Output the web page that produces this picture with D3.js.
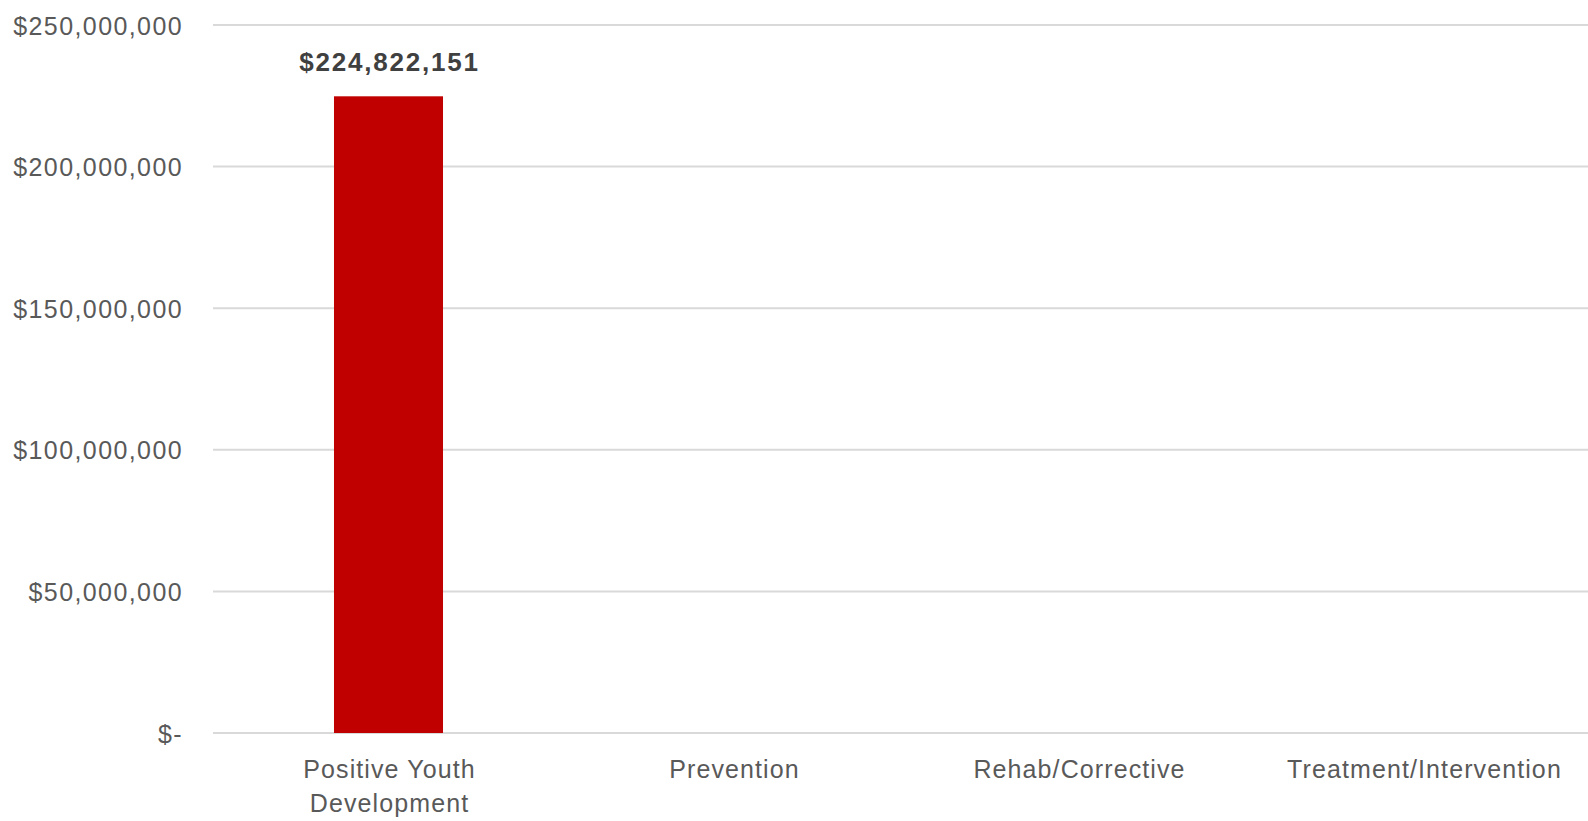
<!DOCTYPE html>
<html>
<head>
<meta charset="utf-8">
<script src="https://cdn.jsdelivr.net/npm/d3@7/dist/d3.min.js"></script>
<style>
  html, body { margin: 0; padding: 0; background: #ffffff; }
  svg { display: block; }
</style>
</head>
<body>
<svg id="chart" width="1588" height="821"></svg>
<script>
// ---- data ----
const categories = [["Positive Youth", "Development"], ["Prevention"], ["Rehab/Corrective"], ["Treatment/Intervention"]];
const categoryKeys = ["Positive Youth Development", "Prevention", "Rehab/Corrective", "Treatment/Intervention"];
const values = [224822151, null, null, null];
const yTicks = [0, 50000000, 100000000, 150000000, 200000000, 250000000];
const yMax = 250000000;

// ---- layout ----
const svg = d3.select("#chart");
const gridLeft = 213, gridRight = 1588;

const x = d3.scaleBand().domain(categoryKeys).range([216, 1596]).paddingInner(0.684).paddingOuter(0.342);
const y = d3.scaleLinear().domain([0, yMax]).range([733, 25]);

const money = d3.format(",");
const fmtTick = v => v === 0 ? "$-" : "$" + money(v);

// gridlines
svg.append("g").selectAll("line").data(yTicks).join("line")
  .attr("x1", gridLeft).attr("x2", gridRight)
  .attr("y1", d => y(d)).attr("y2", d => y(d))
  .attr("stroke", "#d9d9d9").attr("stroke-width", 2);

// y axis labels
const yAxis = d3.axisLeft(y).tickValues(yTicks).tickFormat(fmtTick).tickSize(0).tickPadding(0);
const gy = svg.append("g").attr("transform", "translate(183,0)").call(yAxis);
gy.select(".domain").remove();
gy.selectAll("text")
  .attr("font-family", "'Liberation Sans', Arial, sans-serif")
  .attr("font-size", 25)
  .attr("letter-spacing", 1.4)
  .attr("fill", "#595959")
  .attr("dy", "0.36em");

// bars
const data = categoryKeys.map((k, i) => ({ key: k, value: values[i] })).filter(d => d.value != null);
svg.append("g").selectAll("rect").data(data).join("rect")
  .attr("x", d => x(d.key))
  .attr("width", x.bandwidth())
  .attr("y", d => y(d.value))
  .attr("height", d => y(0) - y(d.value))
  .attr("fill", "#c00000");

// data labels
svg.append("g").selectAll("text").data(data).join("text")
  .attr("x", d => x(d.key) + x.bandwidth() / 2 + 1)
  .attr("y", d => y(d.value) - 25)
  .attr("text-anchor", "middle")
  .attr("font-family", "'Liberation Sans', Arial, sans-serif")
  .attr("font-weight", "bold")
  .attr("font-size", 26)
  .attr("letter-spacing", 1.8)
  .attr("fill", "#404040")
  .text(d => "$" + money(d.value));

// category labels
const gx = svg.append("g");
categoryKeys.forEach((k, i) => {
  const cx = x(k) + x.bandwidth() / 2 + 1;
  const t = gx.append("text")
    .attr("x", cx)
    .attr("y", 778)
    .attr("text-anchor", "middle")
    .attr("font-family", "'Liberation Sans', Arial, sans-serif")
    .attr("font-size", 25)
    .attr("letter-spacing", 1.1)
    .attr("fill", "#595959");
  categories[i].forEach((line, j) => {
    t.append("tspan").attr("x", cx).attr("dy", j === 0 ? 0 : 34).text(line);
  });
});
</script>
</body>
</html>
